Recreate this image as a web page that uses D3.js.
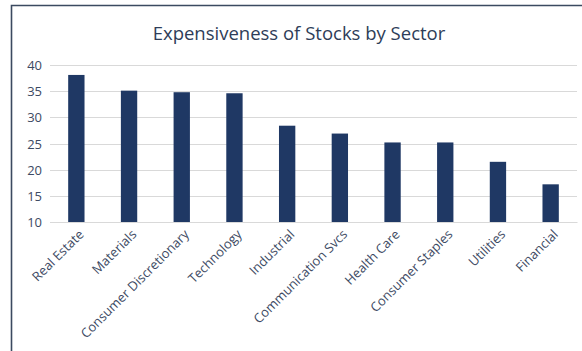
<!DOCTYPE html>
<html>
<head>
<meta charset="utf-8">
<script src="https://cdn.jsdelivr.net/npm/d3@7"></script>
<style>
  body { margin: 0; background: #fff; }
  text { font-family: "Open Sans", "Noto Sans", sans-serif; }
</style>
</head>
<body>
<svg width="582" height="351"></svg>
<script>
// sectors and their valuation values
var sectors = ["Real Estate", "Materials", "Consumer Discretionary", "Technology", "Industrial",
  "Communication Svcs", "Health Care", "Consumer Staples", "Utilities", "Financial"];
var values = [38.1, 35.1, 34.8, 34.6, 28.4, 26.9, 25.2, 25.2, 21.5, 17.2];
var yTicks = [10, 15, 20, 25, 30, 35, 40];

var svg = d3.select("svg"),
  width = +svg.attr("width"),
  height = +svg.attr("height");

var margin = {top: 65, left: 50, right: 5, bottom: 129};
var textColor = "#3d4a63";

// frame (top and left edges only)
svg.append("path")
  .attr("d", "M11.5," + height + "V5.5H" + width)
  .attr("fill", "none")
  .attr("stroke", "#3b4a60")
  .attr("stroke-width", 1.6);

svg.append("text")
  .attr("x", 299)
  .attr("y", 40)
  .attr("text-anchor", "middle")
  .attr("font-size", 18.5)
  .attr("fill", "#2e3d58")
  .text("Expensiveness of Stocks by Sector");

var x = d3.scaleBand()
  .domain(sectors)
  .range([margin.left, width - margin.right])
  .paddingInner(0.69)
  .paddingOuter(0.345);

var y = d3.scaleLinear()
  .domain([10, 40])
  .range([height - margin.bottom, margin.top]);

// gridlines
svg.append("g")
  .selectAll("line")
  .data(yTicks)
  .enter().append("line")
  .attr("x1", margin.left)
  .attr("x2", width - margin.right)
  .attr("y1", function (d) { return Math.round(y(d)) + 0.5; })
  .attr("y2", function (d) { return Math.round(y(d)) + 0.5; })
  .attr("stroke", "#d9d9d9")
  .attr("stroke-width", 1.2);

var yAxis = svg.append("g")
  .attr("transform", "translate(" + (margin.left - 8) + ",0)")
  .call(d3.axisLeft(y).tickValues(yTicks).tickSize(0).tickPadding(0));
yAxis.select(".domain").remove();
yAxis.selectAll("text")
  .attr("font-size", 13)
  .attr("fill", textColor)
  .attr("dy", "0.35em");

svg.append("g")
  .selectAll("rect")
  .data(values)
  .enter().append("rect")
  .attr("x", function (d, i) { return x(sectors[i]); })
  .attr("width", x.bandwidth())
  .attr("y", function (d) { return y(d); })
  .attr("height", function (d) { return y(10) - y(d); })
  .attr("fill", "#1f3864");

var xAxis = svg.append("g")
  .attr("transform", "translate(0," + y(10) + ")")
  .call(d3.axisBottom(x).tickSize(0).tickPadding(0));
xAxis.select(".domain")
  .attr("stroke", "#d9d9d9")
  .attr("stroke-width", 1.2);
xAxis.selectAll("text")
  .attr("font-size", 13)
  .attr("fill", textColor)
  .attr("text-anchor", "end")
  .attr("dy", "0.35em")
  .attr("transform", "translate(5,10) rotate(-45)");
</script>
</body>
</html>
